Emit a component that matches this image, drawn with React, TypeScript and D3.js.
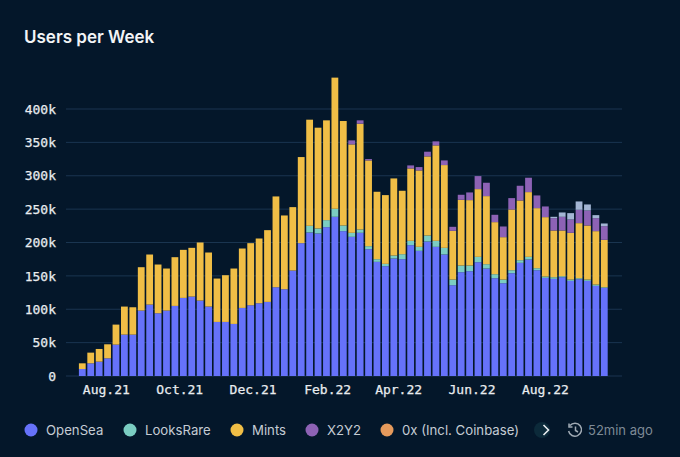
import * as React from "react";
import * as d3 from "d3";

const WIDTH = 680;
const HEIGHT = 457;

const openSea = [10.5,19,21.5,26.5,47,62,62,98,107,94,98,105,117,119,113,104,81,81,78,102,106,109,111,133,130,158,199,215,213.5,223,238.5,217,208.5,214.5,190,171,164.5,176,175,196,187.5,201.5,193.5,182,136,155.5,157,170.5,161,146.5,139,154,169.5,174.5,158.5,147,145.5,148,142.5,145,142.5,135,132];
const looksRare = [0,0,0,0,0,0,0,0,0,0,0,0,0,0,0,0,0,0,0,0,0,0,0,0,0,0,0,10,7.5,10.5,12,8.5,6,5,4.5,4,3.5,4.5,7.5,6.5,6,9,9,10,8.5,10,8.5,8,6.5,6,5.5,4.5,4,4,3,2,2.5,1.5,2,1.5,2,2,1];
const mints = [8.5,16,19,21,30,42,41,65,75,73,63,73,72,73,87,81,65,70,83,89,93,97,107.5,136,110.5,95,129,159,151,149.5,196.5,156.5,132.5,158.5,128.5,101,103,115.5,95,108.5,114.5,118.5,143,124,73,98.5,98,101.5,102,78,63.5,91,89.5,97,90,89,70,68.5,70,82.5,81,80,71];
const x2y2 = [0,0,0,0,0,0,0,0,0,0,0,0,0,0,0,0,0,0,0,0,0,0,0,0,0,0,0,0,0,0,0,0,6,5,2,0,0,0,0,4.5,5,7,6,7,6,7.5,11.5,19.5,20,11,16,17,22,21.5,19,16,18.5,20.5,20,20,22.5,19.5,20.5];
const other = [0,0,0,0,0,0,0,0,0,0,0,0,0,0,0,0,0,0,0,0,0,0,0,0,0,0,0,0,0,0,0,0,0,0,0,0,0,0,0,0,0,0,0,0,0,0,0,0,0,0,0,0,0,0,0,0,2,6.5,9.5,12.5,9,4.5,4];

const seriesKeys = ["OpenSea", "LooksRare", "Mints", "X2Y2", "Other"];
const seriesValues = [openSea, looksRare, mints, x2y2, other];
const seriesColors = ["#6672fa", "#7bcdc2", "#f0be46", "#8d62b5", "#a3b5d3"];

const legendNames = ["OpenSea", "LooksRare", "Mints", "X2Y2", "0x (Incl. Coinbase)"];
const legendColors = ["#6672fa", "#7bcdc2", "#f0be46", "#8d62b5", "#e59a5c"];
const legendDotX = [31, 130, 237, 312, 387];

const yTicks = [0, 50, 100, 150, 200, 250, 300, 350, 400];
const firstWeek = new Date(Date.UTC(2021, 6, 12));
const weeks = openSea.map((_, i) => d3.utcDay.offset(firstWeek, i * 7));
const monthTicks = d3.utcMonth.range(new Date(Date.UTC(2021, 7, 1)), new Date(Date.UTC(2022, 8, 1)), 2);

const BAR_W = 6.8;
const MONO = "'DejaVu Sans Mono', 'Liberation Mono', monospace";

export default function App() {
  const x = d3
    .scaleUtc()
    .domain([weeks[0], weeks[weeks.length - 1]])
    .range([82.3, 604.3]);
  const y = d3.scaleLinear().domain([0, 400]).range([376, 109]);

  const rows = weeks.map((_, i) => {
    const row: Record<string, number> = { i };
    seriesKeys.forEach((k, s) => (row[k] = seriesValues[s][i]));
    return row;
  });
  const stacked = d3.stack<Record<string, number>>().keys(seriesKeys)(rows);
  const fmtMonth = d3.utcFormat("%b.%y");

  return (
    <svg
      width={WIDTH}
      height={HEIGHT}
      style={{ position: "absolute", left: 0, top: 0, background: "#04172a" }}
    >
      <text x={24} y={43} fontFamily="Inter, sans-serif" fontSize={17} fontWeight={600} fill="#f2f4f6">
        Users per Week
      </text>

      {/* Gridlines */}
      {yTicks.map((t) => (
        <line key={t} x1={66} x2={622} y1={y(t)} y2={y(t)} stroke="#1a3550" strokeWidth={1} />
      ))}
      {yTicks.map((t) => (
        <text
          key={`label-${t}`}
          x={56}
          y={y(t)}
          dy="0.36em"
          textAnchor="end"
          fontFamily={MONO}
          fontSize={13}
          fill="#e9ecef"
          stroke="#e9ecef"
          strokeWidth={0.25}
        >
          {t === 0 ? "0" : `${t}k`}
        </text>
      ))}

      {stacked.map((layer, s) => (
        <g key={layer.key} fill={seriesColors[s]}>
          {layer.map((d, i) =>
            d[1] > d[0] ? (
              <rect
                key={i}
                x={x(weeks[i]) - BAR_W / 2}
                width={BAR_W}
                y={y(d[1])}
                height={y(d[0]) - y(d[1])}
              />
            ) : null,
          )}
        </g>
      ))}

      {monthTicks.map((m) => (
        <text
          key={m.getTime()}
          x={x(m)}
          y={394}
          textAnchor="middle"
          fontFamily={MONO}
          fontSize={13}
          fill="#e9ecef"
          stroke="#e9ecef"
          strokeWidth={0.25}
        >
          {fmtMonth(m)}
        </text>
      ))}

      {/* Legend */}
      {legendNames.map((name, i) => (
        <g key={name}>
          <circle cx={legendDotX[i]} cy={430} r={6.5} fill={legendColors[i]} />
          <text
            x={legendDotX[i] + 15}
            y={430}
            dy="0.35em"
            fontFamily="Inter, sans-serif"
            fontSize={13.2}
            fill="#c5ccd4"
          >
            {name}
          </text>
        </g>
      ))}
      <circle cx={542} cy={430} r={8} fill="#0c2a3a" />
      <path d="M543.5 425l5 5l-5 5" fill="none" stroke="#e9ecef" strokeWidth={1.6} />
      <path
        d="M570 425.5a6.5 6.5 0 1 1 -1.4 5.5M569 423.5v3.5h3.5M575.5 426.5v4l2.5 1.5"
        fill="none"
        stroke="#a0aab4"
        strokeWidth={1.5}
      />
      <text x={588} y={430} dy="0.35em" fontFamily="Inter, sans-serif" fontSize={13} fill="#7e8a96">
        52min ago
      </text>
    </svg>
  );
}
